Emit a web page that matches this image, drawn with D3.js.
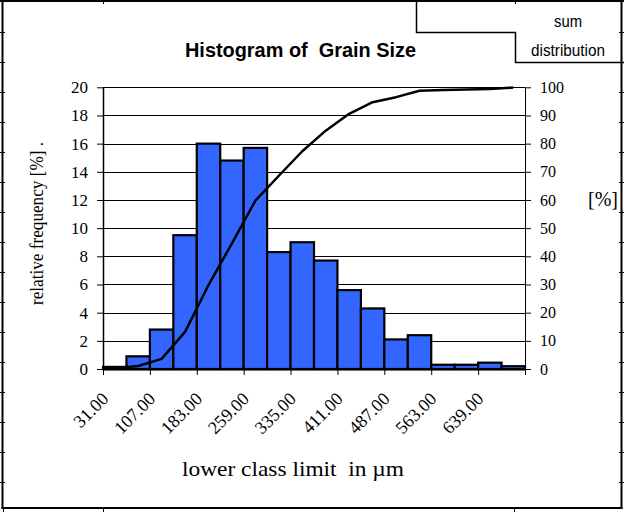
<!DOCTYPE html>
<html>
<head>
<meta charset="utf-8">
<script src="https://cdn.jsdelivr.net/npm/d3@7"></script>
<style>
  html, body { margin: 0; padding: 0; background: #fff; }
  svg { display: block; }
</style>
</head>
<body>
<svg id="chart" width="624" height="512"></svg>
<script>
// ---- data ----
const classLimits = [31, 69, 107, 145, 183, 221, 259, 297, 335, 373, 411, 449, 487, 525, 563, 601, 639, 677];
const relFrequency = [0.15, 0.9, 2.8, 9.5, 16.0, 14.8, 15.7, 8.3, 9.0, 7.7, 5.6, 4.3, 2.1, 2.4, 0.3, 0.3, 0.45, 0.2];
const sumDistribution = [0.15, 1.05, 3.6, 13.2, 29.8, 44.6, 59.8, 68.6, 77.3, 84.6, 90.6, 94.7, 96.5, 98.8, 99.0, 99.2, 99.4, 99.9];
const leftTicks = [0, 2, 4, 6, 8, 10, 12, 14, 16, 18, 20];
const rightTicks = [0, 10, 20, 30, 40, 50, 60, 70, 80, 90, 100];
const xTickIndex = [0, 2, 4, 6, 8, 10, 12, 14, 16, 18];
const xTickLabels = ["31.00", "107.00", "183.00", "259.00", "335.00", "411.00", "487.00", "563.00", "639.00", ""];

const titleText = "Histogram of  Grain Size";
const xTitle = "lower class limit  in µm";
const yTitle = "relative frequency [%] .";
const yRightTitle = "[%]";
const legendLines = ["sum", "distribution"];

// ---- layout ----
const L = 103, R = 525, T = 87.3, B = 369;
const serif = "'Liberation Serif','Times New Roman',serif";
const sans = "'Liberation Sans',Arial,sans-serif";
const svg = d3.select("#chart");

// outer frame and sheet marks
const frame = svg.append("g").attr("stroke", "#000").attr("fill", "none");
frame.append("line").attr("x1", 0).attr("x2", 624).attr("y1", 1).attr("y2", 1).attr("stroke-width", 2);
frame.append("line").attr("x1", 2.5).attr("x2", 2.5).attr("y1", 0).attr("y2", 509).attr("stroke-width", 2);
frame.append("line").attr("x1", 1.5).attr("x2", 622.5).attr("y1", 508).attr("y2", 508).attr("stroke-width", 2);
frame.append("line").attr("x1", 621.5).attr("x2", 621.5).attr("y1", 0).attr("y2", 509).attr("stroke-width", 2);
d3.range(32, 500, 30).forEach(y => {
  frame.append("line").attr("x1", 0).attr("x2", 5).attr("y1", y + 0.5).attr("y2", y + 0.5).attr("stroke-width", 1);
  frame.append("line").attr("x1", 619).attr("x2", 624).attr("y1", y + 0.5).attr("y2", y + 0.5).attr("stroke-width", 1);
});
[3, 103, 514].forEach(x => frame.append("line").attr("x1", x + 0.5).attr("x2", x + 0.5).attr("y1", 508).attr("y2", 512).attr("stroke-width", 1));
[103, 515].forEach(x => frame.append("line").attr("x1", x + 0.5).attr("x2", x + 0.5).attr("y1", 0).attr("y2", 4).attr("stroke-width", 1));

// legend-like box top right
svg.append("path").attr("d", "M416.5,0 V32.5 H515.5 V62.5 H624")
  .attr("fill", "none").attr("stroke", "#000").attr("stroke-width", 1.5);
svg.append("text").attr("x", 568).attr("y", 26.5).attr("text-anchor", "middle")
  .attr("font-family", sans).attr("font-size", 17)
  .attr("textLength", 28).attr("lengthAdjust", "spacingAndGlyphs").text(legendLines[0]);
svg.append("text").attr("x", 568).attr("y", 56).attr("text-anchor", "middle")
  .attr("font-family", sans).attr("font-size", 17)
  .attr("textLength", 74).attr("lengthAdjust", "spacingAndGlyphs").text(legendLines[1]);

// title
svg.append("text").attr("x", 185).attr("y", 57)
  .attr("font-family", sans).attr("font-size", 21).attr("font-weight", "bold")
  .style("white-space", "pre")
  .attr("textLength", 231).attr("lengthAdjust", "spacingAndGlyphs").text(titleText);

// scales
const x = d3.scaleBand().domain(classLimits).range([L, R]).padding(0);
const xTicks = d3.scaleLinear().domain([0, classLimits.length]).range([L, R]);
const yL = d3.scaleLinear().domain([0, 20]).range([B, T]);
const yR = d3.scaleLinear().domain([0, 100]).range([B, T]);

// gridlines
svg.append("g").selectAll("line").data(leftTicks).join("line")
  .attr("x1", L).attr("x2", R)
  .attr("y1", d => Math.round(yL(d)) + 0.5).attr("y2", d => Math.round(yL(d)) + 0.5)
  .attr("stroke", "#000").attr("stroke-width", 1);

// bars
svg.append("g").selectAll("rect").data(classLimits).join("rect")
  .attr("x", d => x(d))
  .attr("width", x.bandwidth())
  .attr("y", (d, i) => yL(relFrequency[i]))
  .attr("height", (d, i) => B - yL(relFrequency[i]))
  .attr("fill", "#3366FF").attr("stroke", "#000").attr("stroke-width", 2.2);

// cumulative line
const line = d3.line()
  .x((d, i) => x(classLimits[i]) + x.bandwidth() / 2)
  .y(d => yR(d));
svg.append("path").datum(sumDistribution).attr("d", line)
  .attr("fill", "none").attr("stroke", "#000").attr("stroke-width", 2.5).attr("stroke-linejoin", "round");

// left axis
const gL = svg.append("g").attr("transform", `translate(${L},0)`)
  .call(d3.axisLeft(yL).tickValues(leftTicks).tickSize(6).tickSizeOuter(0).tickPadding(9).tickFormat(d3.format("d")));
gL.select(".domain").attr("stroke-width", 1.5);
gL.selectAll("text").attr("font-family", serif).attr("font-size", 17).attr("fill", "#000");

// right axis
const gR = svg.append("g").attr("transform", `translate(${R},0)`)
  .call(d3.axisRight(yR).tickValues(rightTicks).tickSize(6).tickSizeOuter(0).tickPadding(9).tickFormat(d3.format("d")));
gR.selectAll("text").attr("font-family", serif).attr("font-size", 16).attr("fill", "#000");

// bottom axis
const gB = svg.append("g").attr("transform", `translate(0,${B})`)
  .call(d3.axisBottom(xTicks).tickValues(xTickIndex).tickSize(6).tickSizeOuter(0)
    .tickFormat((d, i) => xTickLabels[i]));
gB.select(".domain").attr("stroke-width", 2);
gB.selectAll("text")
  .attr("font-family", serif).attr("font-size", 18).attr("fill", "#000")
  .attr("x", 6).attr("y", 31).attr("dy", null)
  .attr("text-anchor", "end")
  .attr("transform", "rotate(-45,6,31)");

// axis titles
svg.append("text").attr("x", 182).attr("y", 476)
  .attr("font-family", serif).attr("font-size", 22)
  .style("white-space", "pre")
  .attr("textLength", 222).attr("lengthAdjust", "spacingAndGlyphs").text(xTitle);

svg.append("text").attr("transform", "translate(43,223.5) rotate(-90)")
  .attr("text-anchor", "middle")
  .attr("font-family", serif).attr("font-size", 19)
  .attr("textLength", 163).attr("lengthAdjust", "spacingAndGlyphs").text(yTitle);

svg.append("text").attr("x", 588).attr("y", 206)
  .attr("font-family", serif).attr("font-size", 20).text(yRightTitle);
</script>
</body>
</html>
